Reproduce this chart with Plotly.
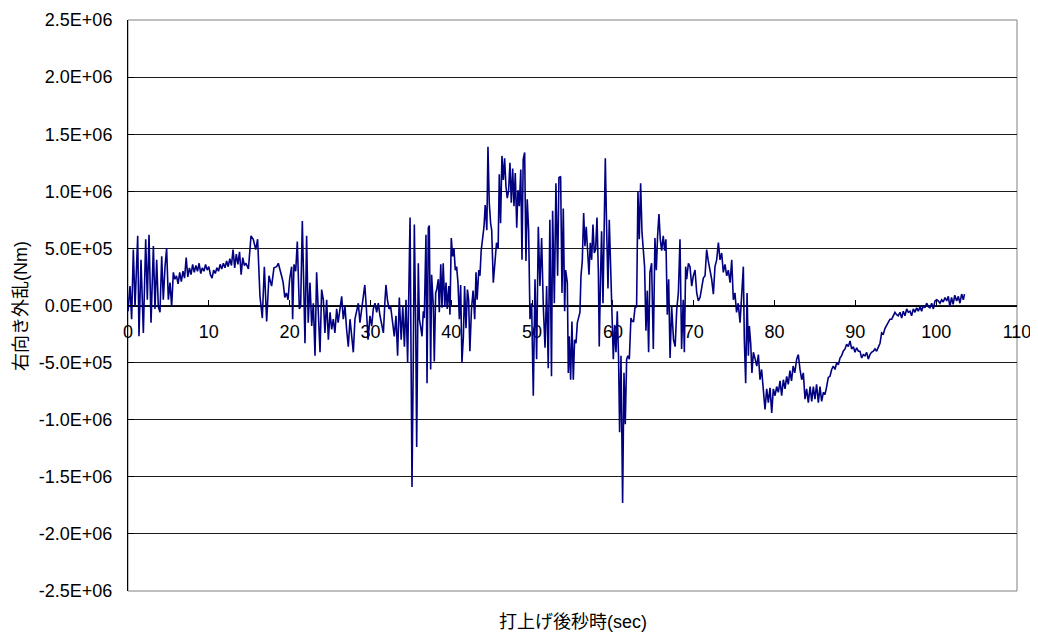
import plotly.graph_objects as go

# time after launch (s)
t_sec = [
    0.0, 0.12, 0.25, 0.45, 0.66, 0.87, 1.2, 1.36, 1.61, 1.9,
    2.19, 2.39, 2.6, 2.85, 3.14, 3.34, 3.55, 3.75, 3.96, 4.17,
    4.37, 4.58, 4.78, 4.99, 5.2, 5.4, 5.61, 5.8,
    6.0, 6.2, 6.4, 6.6, 6.8, 7.0, 7.2, 7.4, 7.6, 7.8,
    8.0, 8.2, 8.4, 8.6, 8.8, 9.0, 9.2, 9.4, 9.6, 9.8,
    10.0, 10.2, 10.4, 10.6, 10.8, 11.0, 11.2, 11.4, 11.6, 11.8,
    12.0, 12.2, 12.4, 12.6, 12.8, 13.0, 13.2, 13.4, 13.6, 13.8,
    14.0, 14.2, 14.4, 14.6, 14.9,
    15.22, 15.5, 15.8, 16.04, 16.33, 16.62, 16.87, 17.16, 17.44, 17.77, 18.06,
    18.4, 18.6, 18.8, 19.0, 19.2, 19.4, 19.6, 19.8, 20.0, 20.25,
    20.37, 20.54, 20.75, 20.95, 21.2, 21.36, 21.57, 21.78, 21.9, 22.1,
    22.3, 22.52, 22.73, 22.93, 23.14, 23.34, 23.55, 23.76, 23.96, 24.17,
    24.37, 24.58, 24.79, 25.0, 25.2, 25.4, 25.6, 25.82, 26.0, 26.23,
    26.44, 26.64, 26.85, 27.05, 27.26, 27.47, 27.67, 27.88, 28.08, 28.29,
    28.5, 28.7, 28.9, 29.1, 29.3, 29.5, 29.7, 29.94, 30.15, 30.35,
    30.56, 30.77, 30.97, 31.18, 31.38, 31.6, 31.8, 31.92, 32.1, 32.3,
    32.5, 32.75, 32.95, 33.16, 33.36, 33.57, 33.8, 34.0, 34.2, 34.4, 34.6,
    34.9, 35.0, 35.14, 35.3, 35.43, 35.6, 35.72, 35.92, 36.05, 36.2,
    36.38, 36.54, 36.66, 36.87, 37.0, 37.16, 37.28, 37.45, 37.57, 37.78,
    37.9, 38.07, 38.2, 38.4, 38.52, 38.7, 38.85, 39.0, 39.2, 39.35,
    39.5, 39.7, 39.84, 40.0, 40.17, 40.33, 40.5, 40.66, 40.83, 41.0,
    41.16, 41.32, 41.5, 41.65, 41.82, 42.0, 42.15, 42.3, 42.5, 42.7,
    42.9, 43.06, 43.2, 43.4, 43.55, 43.7, 43.9, 44.05, 44.2, 44.4,
    44.54, 44.7, 44.87, 45.0, 45.2, 45.4, 45.6, 45.8, 45.94, 46.1,
    46.27, 46.44, 46.6, 46.77, 46.93, 47.1, 47.26, 47.43, 47.6, 47.76,
    47.92, 48.1, 48.25, 48.42, 48.6, 48.75, 48.9, 49.08, 49.24, 49.4, 49.57,
    49.74, 49.94, 50.15, 50.36, 50.56, 50.77, 50.97, 51.18, 51.39, 51.6,
    51.8, 52.0, 52.2, 52.4, 52.54, 52.75, 52.95, 53.16, 53.32, 53.53,
    53.7, 53.86, 54.03, 54.15, 54.36, 54.48, 54.6, 54.77, 54.93, 55.1,
    55.26, 55.43, 55.6, 55.76, 55.92, 56.05, 56.21, 56.38, 56.54, 56.7,
    56.87, 57.04, 57.2, 57.37, 57.53, 57.7, 57.86, 58.03, 58.2, 58.31,
    58.48, 58.6, 58.77, 58.9, 59.06, 59.22, 59.39, 59.55, 59.72, 59.88,
    60.05, 60.21, 60.38, 60.54, 60.7, 60.83, 61.0, 61.2, 61.37, 61.53,
    61.7, 61.86, 62.03, 62.23, 62.4, 62.56, 62.73, 62.93, 63.1, 63.26,
    63.43, 63.6, 63.76, 63.92, 64.09, 64.25, 64.42, 64.58, 64.79, 65.0,
    65.2, 65.37, 65.53, 65.7, 65.86, 66.03, 66.23, 66.4, 66.56, 66.73, 66.9,
    67.07, 67.27, 67.5, 67.7, 67.9, 68.1, 68.3, 68.5, 68.7, 68.84,
    69.0, 69.13, 69.34, 69.54, 69.75, 69.95, 70.16, 70.37, 70.57, 70.78,
    70.98, 71.19, 71.4, 71.6, 71.8, 72.0, 72.22, 72.43, 72.63, 72.84,
    73.05, 73.25, 73.46, 73.66, 73.87, 74.08, 74.28, 74.5, 74.7, 74.9,
    75.1, 75.3, 75.5, 75.73, 75.93, 76.14, 76.26, 76.43, 76.6, 76.76,
    76.88, 77.05, 77.2, 77.38, 77.6, 77.8, 78.0, 78.2, 78.4, 78.6,
    78.82, 79.03, 79.23, 79.44, 79.65, 79.85, 80.06, 80.26, 80.47, 80.68,
    80.88, 81.09, 81.3, 81.5, 81.7, 81.9, 82.1, 82.3, 82.5, 82.74,
    82.94, 83.15, 83.36, 83.56, 83.77, 83.97, 84.18, 84.4,
    84.6, 84.8, 85.0, 85.2, 85.42, 85.62, 85.83, 86.04, 86.24, 86.45,
    86.65, 86.86, 87.07, 87.27, 87.48, 87.69, 87.89, 88.1, 88.3, 88.5,
    88.72, 88.92, 89.13, 89.34, 89.54, 89.75, 89.95, 90.16, 90.37, 90.57,
    90.78, 90.98, 91.19, 91.4, 91.6, 91.8, 92.0, 92.22, 92.43, 92.63,
    92.84, 93.05, 93.25, 93.46, 93.67, 93.87, 94.08, 94.28, 94.5, 94.7,
    94.9, 95.1, 95.3, 95.52, 95.73, 95.93, 96.14, 96.35, 96.55, 96.76,
    96.96, 97.17, 97.38, 97.58, 97.79, 98.0, 98.2, 98.4, 98.6, 98.82,
    99.03, 99.23, 99.44, 99.65, 99.85, 100.06, 100.26, 100.47, 100.68, 100.88,
    101.09, 101.3, 101.5, 101.7, 101.9, 102.1, 102.3, 102.53, 102.74, 102.94,
    103.15, 103.36, 103.5,
]

# rightward disturbance moment, in units of 1e5 Nm
disturbance_e5 = [
    -0.5, 0.5, 1.7, -1.2, 4.9, -0.1, 6.1, -2.7, 4.0, -2.4,
    5.8, 0.5, 6.2, -1.5, 5.2, -0.3, 4.0, -0.1, -0.6, 4.3,
    0.5, 3.4, 5.0, 0.5, 2.0, -0.1, 2.9, 2.3,
    2.6, 1.9, 2.9, 2.1, 3.0, 2.4, 4.2, 2.5, 3.3, 2.7,
    3.6, 2.9, 3.5, 3.0, 3.7, 2.8, 3.3, 3.0, 3.6, 3.1,
    3.4, 2.7, 2.4, 3.1, 2.8, 3.3, 3.0, 3.6, 3.2, 3.7,
    3.3, 3.9, 3.4, 4.1, 3.5, 4.9, 3.3, 4.5, 3.6, 4.7,
    2.7, 4.2, 3.5, 3.7, 3.2,
    6.1, 5.8, 4.9, 5.8, 0.8, -1.1, 3.4, -1.4, 2.6, 1.7, 3.3,
    3.4, 3.7, 3.0, 2.6, 2.0, 0.7, 1.1, 0.5, 2.3, 3.4,
    -1.2, 3.6, 3.0, 5.6, -0.3, -0.1, 7.4, -0.9, -3.3, 6.1,
    -1.5, 2.0, -1.8, 0.2, -4.4, 2.9, -0.3, -4.1, 1.4, 0.5,
    -2.4, 0.5, -3.0, -0.6, -2.1, -1.2, -2.4, -0.3, -1.5, -0.3,
    0.8, -1.2, -0.1, -2.1, -3.6, -1.2, -2.7, -4.1, -1.2, -0.6,
    0.2, -1.5, -0.3, 0.8, 1.8, -0.3, -3.0, -0.9, -1.8, -0.3,
    0.2, -0.6, 0.2, -0.9, -1.5, -2.4, 0.5, 1.8, 0.5, -0.3,
    -0.1, -1.8, -2.7, -0.9, -4.4, 0.7, -3.0, -0.1, -3.6, 0.5, -5.0,
    7.7, -1.2, -15.9, -4.7, 7.1, -1.8, -12.4, 3.7, -1.2, -1.8,
    -2.7, -0.5, -1.1, 6.2, -6.8, 6.8, 7.0, -5.6, 2.7, -0.1,
    -4.9, 1.1, 1.4, 2.3, -0.6, 3.6, -0.2, 3.7, -0.1, 2.0,
    -0.3, 1.7, -0.8, 5.9, 4.3, 5.0, 3.1, 3.4, 2.0, -1.2,
    1.8, -5.0, -2.7, 1.7, -2.0, 1.4, 0.5, -4.0, -0.3, 1.3,
    -1.2, 2.9, 0.5, 3.1, 2.6, 4.8, 6.1, 6.9, 8.8, 6.6,
    13.9, 9.0, 7.2, 6.6, 2.0, 4.0, 5.5, 5.0, 11.5, 7.2,
    13.1, 11.0, 12.9, 10.4, 9.4, 10.1, 12.5, 9.0, 12.0, 8.7,
    11.6, 6.8, 10.1, 8.7, 11.9, 4.0, 12.8, 13.4, 3.9, 9.3, 6.6,
    -1.2, 0.2, -7.9, 2.3, -4.7, 6.9, 1.7, 5.9, -0.1, -3.7,
    1.7, -5.5, 7.5, -6.2, 8.3, 0.2, 10.7, 2.6, 11.2, 11.3,
    1.1, 8.5, -0.5, 3.1, 2.0, -5.9, -2.7, -6.5, -1.4, -6.5,
    -3.0, -3.3, -1.5, -0.9, -0.6, 2.6, 3.9, 8.1, 5.2, 6.9,
    4.9, 2.7, 5.5, 4.0, 7.1, 4.6, 4.9, 7.7, 2.9, -3.6,
    2.9, 6.5, 0.2, 4.9, 12.9, 6.9, 1.5, 7.5, 2.9, 1.1,
    -4.7, -1.7, -4.1, -0.5, -4.6, -11.1, -4.4, -17.3, -5.9, -10.4,
    -4.7, -4.4, -4.7, -1.1, -1.4, -1.4, -0.2, -0.1, 10.0, 5.8,
    10.7, 6.4, 4.9, 3.4, -2.2, 1.3, -4.1, 2.9, 3.7, -3.8,
    5.9, 3.1, 6.1, 8.0, 5.8, 4.8, 6.1, 4.8, 5.8, -0.8, 2.3,
    -4.6, -0.1, -3.0, -3.6, -0.3, 1.1, 5.8, -3.8, 0.5, -4.1,
    3.4, 2.3, 3.7, 3.4, 1.7, 2.6, 3.1, 1.1, 0.4, 0.7,
    1.5, 2.4, 2.6, 4.9, 3.9, 3.1, 2.3, 1.0, 3.4, 4.0,
    5.5, 4.0, 4.6, 2.9, 3.6, 2.6, 3.1, 2.0, 4.0, 0.5,
    1.1, -0.6, 0.2, -1.5, 0.5, 3.4, -3.0, -6.8, 1.1, -4.4,
    -1.8, -3.3, -5.9, -4.1, -4.7, -5.3, -4.3, -6.5, -5.6, -7.1,
    -9.1, -7.3, -8.5, -7.2, -9.4, -7.3, -7.9, -7.1, -7.6, -6.6,
    -7.9, -6.5, -7.3, -6.2, -6.9, -5.7, -6.6, -5.3, -5.9, -4.7,
    -4.3, -5.6, -6.5, -5.9, -8.2, -7.3, -8.5, -7.1,
    -8.4, -7.1, -8.2, -6.9, -8.5, -7.1, -8.4, -7.6, -7.8, -7.1,
    -6.3, -6.2, -5.6, -5.3, -5.6, -5.0, -5.2, -4.6, -4.4, -4.0,
    -3.8, -3.4, -3.6, -3.1, -3.8, -3.6, -4.1, -3.7, -4.0, -4.0,
    -4.6, -4.3, -4.4, -4.1, -4.7, -4.3, -4.1, -4.0, -3.8, -4.0,
    -3.6, -3.3, -2.4, -2.5, -2.0, -1.7, -1.4, -1.2, -1.2, -0.9,
    -0.6, -0.8, -0.9, -0.6, -1.1, -0.5, -0.9, -0.3, -0.6, -0.5,
    -0.9, -0.3, -0.6, -0.2, -0.5, -0.1, -0.5, 0.0, -0.2, 0.2,
    -0.1, -0.2, 0.2, -0.3, 0.4, 0.5, 0.4, 0.2, 0.5, 0.3,
    0.7, 0.4, 0.8, -0.1, 0.7, 0.1, 0.9, 0.4, 0.8, 0.2,
    1.0, 0.5, 1.0,
]

x_ticks = [0, 10, 20, 30, 40, 50, 60, 70, 80, 90, 100, 110]
y_ticks = [-2.5e6, -2.0e6, -1.5e6, -1.0e6, -5.0e5, 0, 5.0e5, 1.0e6, 1.5e6, 2.0e6, 2.5e6]
y_tick_labels = ["-2.5E+06", "-2.0E+06", "-1.5E+06", "-1.0E+06", "-5.0E+05", "0.0E+00",
                 "5.0E+05", "1.0E+06", "1.5E+06", "2.0E+06", "2.5E+06"]

x_title = "打上げ後秒時(sec)"
y_title = "右向き外乱(Nm)"

assert len(t_sec) == len(disturbance_e5), (len(t_sec), len(disturbance_e5))
disturbance = [v * 1e5 for v in disturbance_e5]

FONT = "Liberation Sans, Arial, Noto Sans CJK JP, sans-serif"
FS = 18

fig = go.Figure()
fig.add_trace(go.Scatter(x=t_sec, y=disturbance, mode="lines",
                         line=dict(color="#000080", width=1.6), hoverinfo="skip"))

# page body adds an 8px offset, so the figure is 8px smaller with reduced left/top margins
fig.update_layout(
    width=1030, height=624,
    margin=dict(l=120, r=21, t=12, b=41, autoexpand=False),
    plot_bgcolor="white", paper_bgcolor="white",
    showlegend=False,
    font=dict(family=FONT, size=FS, color="black"),
    xaxis=dict(range=[0, 110], tickvals=x_ticks, ticks="inside", ticklen=6,
               tickcolor="black", showline=True, linecolor="black", linewidth=1,
               showgrid=False, zeroline=False, anchor="free", position=0.5,
               layer="below traces", ticklabelstandoff=10, automargin=False,
               tickfont=dict(family=FONT, size=FS)),
    yaxis=dict(range=[-2.5e6, 2.5e6], tickvals=y_ticks, ticktext=y_tick_labels,
               ticks="inside", ticklen=6, tickcolor="black", showline=True,
               linecolor="black", linewidth=1, showgrid=True, gridcolor="#1a1a1a",
               gridwidth=1, zeroline=False, ticklabelstandoff=11, automargin=False,
               tickfont=dict(family=FONT, size=FS)),
    shapes=[dict(type="rect", xref="paper", yref="paper", x0=0, x1=1, y0=0, y1=1,
                 line=dict(color="#808080", width=1), layer="below")],
    annotations=[
        dict(text=x_title, xref="paper", yref="paper", x=0.5, y=-0.054,
             xanchor="center", yanchor="middle", showarrow=False,
             font=dict(family=FONT, size=FS)),
        dict(text=y_title, xref="paper", yref="paper", x=-0.121, y=0.5,
             xanchor="center", yanchor="middle", textangle=-90, showarrow=False,
             font=dict(family=FONT, size=FS)),
    ],
)

fig.write_html("out.html")
